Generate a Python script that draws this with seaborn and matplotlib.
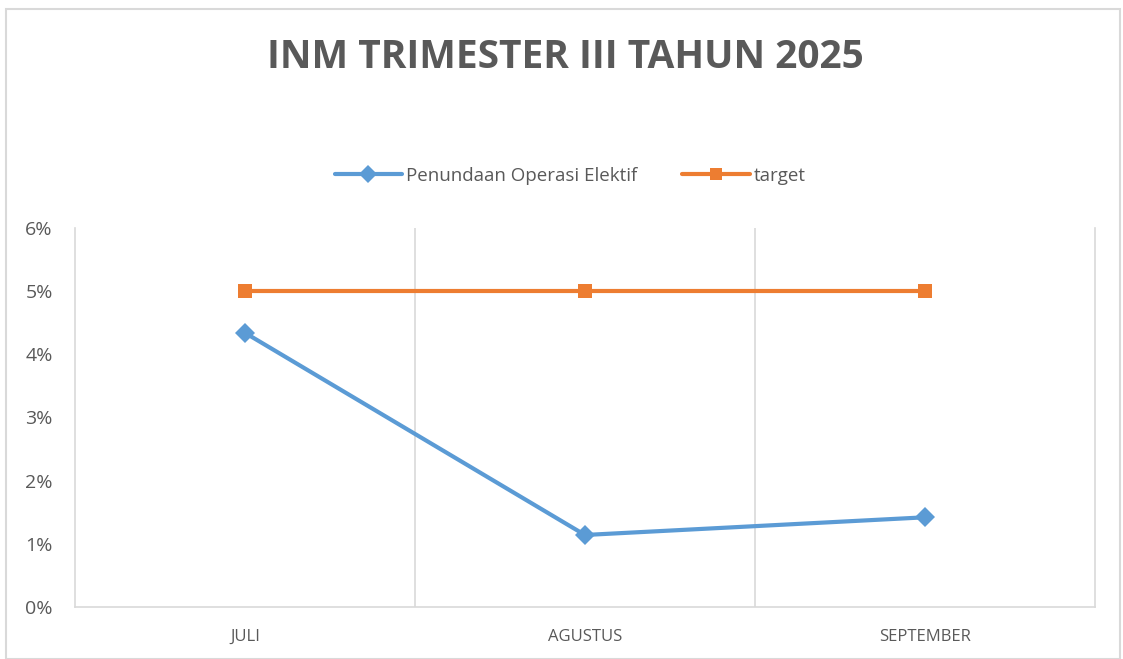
import matplotlib
matplotlib.use("Agg")
import matplotlib.pyplot as plt
import seaborn as sns
import pandas as pd
from matplotlib.patches import Rectangle
from matplotlib.lines import Line2D
from matplotlib.ticker import FuncFormatter

MONTHS = ["JULI", "AGUSTUS", "SEPTEMBER"]
PENUNDAAN = [4.34, 1.14, 1.42]
TARGET = [5, 5, 5]
SERIES = ["Penundaan Operasi Elektif", "target"]

BLUE = "#5B9BD5"
ORANGE = "#ED7D31"
GREY = "#595959"
GRID = "#D9D9D9"


def build_frame():
    rows = []
    for name, vals in zip(SERIES, [PENUNDAAN, TARGET]):
        for i, (m, v) in enumerate(zip(MONTHS, vals)):
            rows.append({"pos": i, "bulan": m, "seri": name, "nilai": v})
    return pd.DataFrame(rows)


def main():
    sns.set_style("white")
    plt.rcParams["font.family"] = ["Open Sans", "DejaVu Sans"]

    df = build_frame()

    fig = plt.figure(figsize=(11.23, 6.59), dpi=100)
    ax = fig.add_axes([75 / 1123, 52 / 659, 1020 / 1123, 379 / 659])

    sns.lineplot(
        data=df, x="pos", y="nilai", hue="seri", style="seri",
        palette={SERIES[0]: BLUE, SERIES[1]: ORANGE},
        markers={SERIES[0]: "D", SERIES[1]: "s"},
        dashes=False, linewidth=3, markersize=10, markeredgewidth=0,
        ax=ax, legend=False,
    )

    ax.set_xlim(-0.5, 2.5)
    ax.set_ylim(0, 6)
    ax.set_yticks(range(0, 7))
    ax.yaxis.set_major_formatter(FuncFormatter(lambda v, p: f"{int(v)}%"))
    ax.set_xticks(range(len(MONTHS)))
    ax.set_xticklabels(MONTHS)
    ax.set_xlabel("")
    ax.set_ylabel("")

    # vertical separators between categories
    for b in [0.5, 1.5]:
        ax.axvline(b, color=GRID, lw=1.2, zorder=0)

    for side in ["left", "right", "bottom"]:
        ax.spines[side].set_color(GRID)
        ax.spines[side].set_linewidth(1.2)
    ax.spines["top"].set_visible(False)

    ax.tick_params(axis="y", labelsize=14, colors=GREY, length=0, pad=16)
    ax.tick_params(axis="x", labelsize=12, colors=GREY, length=0, pad=16)

    handles = [
        Line2D([], [], color=BLUE, lw=3, marker="D", markersize=9, markeredgewidth=0),
        Line2D([], [], color=ORANGE, lw=3, marker="s", markersize=9, markeredgewidth=0),
    ]
    fig.legend(handles, SERIES, loc="center", bbox_to_anchor=(570 / 1123, 1 - 176 / 659),
               ncol=2, frameon=False, fontsize=13.5, labelcolor=GREY,
               handlelength=3.6, handletextpad=0.2, columnspacing=2.4)

    fig.text(565 / 1123, 1 - 57 / 659, "INM TRIMESTER III TAHUN 2025",
             ha="center", va="center", fontsize=28, fontweight="bold", color=GREY)

    # outer chart border
    fig.patches.append(Rectangle((6 / 1123, 0), 1114 / 1123, 1 - 9 / 659,
                                 transform=fig.transFigure, fill=False,
                                 edgecolor=GRID, lw=1.5))

    fig.savefig("out.png", dpi=100)


if __name__ == "__main__":
    main()
